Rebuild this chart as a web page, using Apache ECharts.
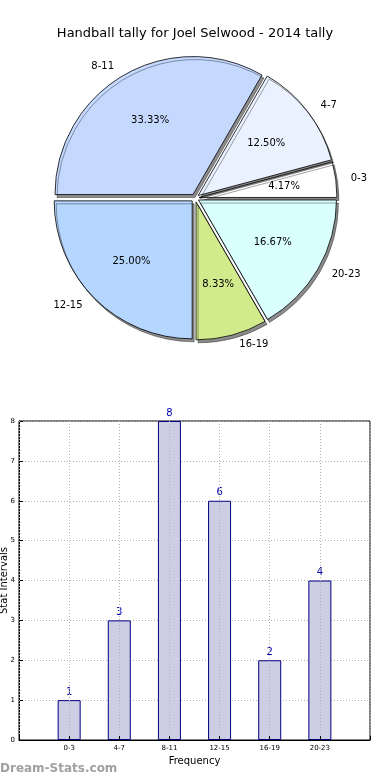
<!DOCTYPE html>
<html>
<head>
<meta charset="utf-8">
<style>
html,body{margin:0;padding:0;background:#fff;}
#c{width:390px;height:780px;}
</style>
<script src="https://cdn.jsdelivr.net/npm/echarts@6/dist/echarts.min.js"></script>
</head>
<body>
<div id="c"></div>
<script>
var categories = ['0-3', '4-7', '8-11', '12-15', '16-19', '20-23'];
var counts = [1, 3, 8, 6, 2, 4];
var sliceColors = ['#ffffff', '#eaf1ff', '#c5d9ff', '#b5d6ff', '#d0ea8c', '#daffff'];
var yTicks = [0, 1, 2, 3, 4, 5, 6, 7, 8];

var FONT = 'DejaVu Sans';
var chart = echarts.init(document.getElementById('c'));

var total = counts.reduce(function (a, b) { return a + b; }, 0);
var pieData = categories.map(function (c, i) {
  return { name: c, value: counts[i], selected: true, itemStyle: { color: sliceColors[i] } };
});
var pctData = categories.map(function (c, i) {
  return { name: c, value: counts[i], selected: true };
});
var barData = categories.map(function (c, i) { return [i + 1, counts[i]]; });

var R = 138;
var option = {
  animation: false,
  backgroundColor: '#fff',
  title: {
    text: 'Handball tally for Joel Selwood - 2014 tally',
    left: 'center', top: 22,
    textStyle: { fontFamily: FONT, fontSize: 13, fontWeight: 'normal', color: '#000' }
  },
  graphic: [{
    type: 'text', left: 0, top: 763,
    style: { text: 'Dream-Stats.com', font: 'bold 12px "DejaVu Sans"', fill: '#a0a0a0' }
  }],
  grid: {
    left: 19, right: 20, top: 421, bottom: 40,
    containLabel: false, outerBoundsMode: 'none',
    show: true, borderColor: '#000', borderWidth: 1
  },
  xAxis: {
    type: 'value', min: 0, max: 7, interval: 1, z: 3,
    name: 'Frequency', nameLocation: 'middle', nameGap: 16, nameMoveOverlap: false,
    nameTextStyle: { fontFamily: FONT, fontSize: 10, color: '#000' },
    axisLine: { show: true, lineStyle: { color: '#000' } },
    axisTick: { show: true, inside: true, length: 4, lineStyle: { color: '#000' } },
    axisLabel: {
      fontFamily: FONT, fontSize: 7, color: '#000', margin: 5,
      formatter: function (v) { return categories[v - 1] || ''; }
    },
    splitLine: { show: true, lineStyle: { color: '#b4b4b4', type: [1, 2], width: 1 } }
  },
  yAxis: {
    type: 'value', min: 0, max: 8, interval: 1,
    name: 'Stat Intervals', nameLocation: 'middle', nameGap: 10, nameMoveOverlap: false,
    nameTextStyle: { fontFamily: FONT, fontSize: 10, color: '#000' },
    axisLine: { show: true, lineStyle: { color: '#000' } },
    axisTick: { show: true, inside: true, length: 4, lineStyle: { color: '#000' } },
    axisLabel: {
      fontFamily: FONT, fontSize: 7, color: '#000', margin: 4,
      formatter: function (v) { return yTicks.indexOf(v) >= 0 ? String(v) : ''; }
    },
    splitLine: { show: true, lineStyle: { color: '#b4b4b4', type: [1, 2], width: 1 } }
  },
  series: [
    {
      type: 'pie',
      center: [195, 198],
      radius: [0, R],
      startAngle: 0,
      clockwise: false,
      selectedMode: 'multiple',
      selectedOffset: 4,
      silent: true,
      data: pieData,
      itemStyle: {
        borderColor: '#000', borderWidth: 0.8,
        shadowColor: 'rgba(0,0,0,0.45)', shadowBlur: 0, shadowOffsetX: 2, shadowOffsetY: 3
      },
      label: {
        show: true, position: 'outside',
        fontFamily: FONT, fontSize: 10, color: '#000',
        formatter: '{b}'
      },
      labelLine: { show: false, length: 10, length2: 0 },
      emphasis: { disabled: true }
    },
    {
      type: 'pie',
      center: [195, 198],
      radius: [0, R * 1.2],
      startAngle: 0,
      clockwise: false,
      selectedMode: 'multiple',
      selectedOffset: 4,
      silent: true,
      z: 3,
      data: pctData,
      itemStyle: { color: 'rgba(0,0,0,0)', borderWidth: 0 },
      label: {
        show: true, position: 'inside',
        fontFamily: FONT, fontSize: 10, color: '#000',
        formatter: function (p) { return (p.value / total * 100).toFixed(2) + '%'; }
      },
      labelLine: { show: false },
      emphasis: { disabled: true }
    },
    {
      type: 'bar',
      data: barData,
      barWidth: 23,
      itemStyle: { color: '#cdcde4', borderColor: '#000080', borderWidth: 1 },
      label: {
        show: true, position: 'top', distance: 3,
        fontFamily: FONT, fontSize: 10, color: '#0000aa'
      },
      silent: true
    }
  ]
};
chart.setOption(option);
</script>
</body>
</html>
